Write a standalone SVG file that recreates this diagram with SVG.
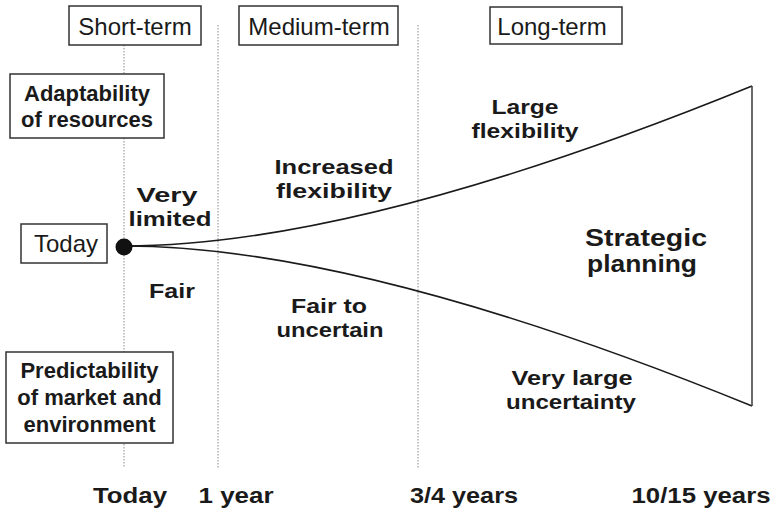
<svg xmlns="http://www.w3.org/2000/svg" width="773" height="512" viewBox="0 0 773 512">
  <style>
    .box { fill: #ffffff; stroke: #333333; stroke-width: 1.5; }
    .grid { stroke: #8a8a8a; stroke-width: 1; stroke-dasharray: 1.5 1.5; fill: none; }
    .curve { stroke: #1a1a1a; stroke-width: 1.6; fill: none; }
    .edge { stroke: #444444; stroke-width: 1.6; fill: none; }
    .reg { font-family: "Liberation Sans", Arial, sans-serif; font-size: 24px; fill: #1a1a1a; text-anchor: middle; }
    .lbl { font-family: "Liberation Sans", Arial, sans-serif; font-weight: bold; font-size: 21px; fill: #1a1a1a; text-anchor: middle; }
    .axis { font-family: "Liberation Sans", Arial, sans-serif; font-weight: bold; font-size: 22px; fill: #1a1a1a; text-anchor: middle; }
    .boxlbl { font-family: "Liberation Sans", Arial, sans-serif; font-weight: bold; font-size: 22px; fill: #1a1a1a; text-anchor: middle; }
    .big { font-family: "Liberation Sans", Arial, sans-serif; font-weight: bold; font-size: 23.5px; fill: #1a1a1a; text-anchor: middle; }
  </style>
  <rect width="773" height="512" fill="#ffffff"/>

  <!-- time markers -->
  <g id="gridlines">
    <line class="grid" x1="124" y1="45" x2="124" y2="468"/>
    <line class="grid" x1="218" y1="25" x2="218" y2="468"/>
    <line class="grid" x1="418" y1="25" x2="418" y2="468"/>
  </g>

  <!-- horizon headers -->
  <g id="short-term">
    <rect class="box" x="69" y="6" width="132" height="39"/>
    <text class="reg" x="135" y="35">Short-term</text>
  </g>
  <g id="medium-term">
    <rect class="box" x="239" y="6" width="159" height="39"/>
    <text class="reg" x="319" y="35">Medium-term</text>
  </g>
  <g id="long-term">
    <rect class="box" x="490" y="7" width="132" height="37"/>
    <text class="reg" x="552" y="35" font-size="25">Long-term</text>
  </g>

  <!-- row headers -->
  <g id="adaptability">
    <rect class="box" x="10" y="74" width="154" height="64"/>
    <text class="boxlbl" x="87" y="101">Adaptability</text>
    <text class="boxlbl" x="87" y="127">of resources</text>
  </g>
  <g id="predictability">
    <rect class="box" x="6" y="352" width="167" height="91"/>
    <text class="boxlbl" x="89.5" y="378">Predictability</text>
    <text class="boxlbl" x="89.5" y="405">of market and</text>
    <text class="boxlbl" x="89.5" y="432">environment</text>
  </g>
  <g id="today">
    <rect class="box" x="21" y="224" width="86" height="39"/>
    <text class="reg" x="66" y="252" font-size="23">Today</text>
  </g>

  <!-- funnel -->
  <g id="connectors">
    <path class="curve" d="M124,246 Q359,246 752,86"/>
    <path class="curve" d="M124,246 Q359,246 752,406"/>
    <line class="edge" x1="752" y1="86" x2="752" y2="406"/>
  </g>
  <g id="origin">
    <circle cx="124" cy="247" r="8.5" fill="#111111"/>
  </g>

  <!-- funnel annotations -->
  <g id="very-limited">
    <text class="lbl" x="167" y="201.5" textLength="61" lengthAdjust="spacingAndGlyphs">Very</text>
    <text class="lbl" x="170" y="225.5" textLength="83" lengthAdjust="spacingAndGlyphs">limited</text>
  </g>
  <g id="increased-flexibility">
    <text class="lbl" x="334" y="173.5" textLength="119" lengthAdjust="spacingAndGlyphs">Increased</text>
    <text class="lbl" x="334" y="197.5" textLength="116" lengthAdjust="spacingAndGlyphs">flexibility</text>
  </g>
  <g id="large-flexibility">
    <text class="lbl" x="525" y="113.5" textLength="67" lengthAdjust="spacingAndGlyphs">Large</text>
    <text class="lbl" x="525" y="137.5" textLength="107" lengthAdjust="spacingAndGlyphs">flexibility</text>
  </g>
  <g id="strategic-planning">
    <text class="big" x="646" y="246" textLength="122" lengthAdjust="spacingAndGlyphs">Strategic</text>
    <text class="big" x="642" y="272" textLength="110" lengthAdjust="spacingAndGlyphs">planning</text>
  </g>
  <g id="fair">
    <text class="lbl" x="172" y="298" textLength="46" lengthAdjust="spacingAndGlyphs">Fair</text>
  </g>
  <g id="fair-to-uncertain">
    <text class="lbl" x="329" y="313" textLength="76" lengthAdjust="spacingAndGlyphs">Fair to</text>
    <text class="lbl" x="330" y="337" textLength="107" lengthAdjust="spacingAndGlyphs">uncertain</text>
  </g>
  <g id="very-large-uncertainty">
    <text class="lbl" x="572" y="384.5" textLength="121" lengthAdjust="spacingAndGlyphs">Very large</text>
    <text class="lbl" x="571" y="408.5" textLength="130" lengthAdjust="spacingAndGlyphs">uncertainty</text>
  </g>

  <!-- time axis -->
  <g id="axis-labels">
    <text class="axis" x="130" y="503" textLength="74" lengthAdjust="spacingAndGlyphs">Today</text>
    <text class="axis" x="236" y="503" textLength="75" lengthAdjust="spacingAndGlyphs">1 year</text>
    <text class="axis" x="464" y="503" textLength="108" lengthAdjust="spacingAndGlyphs">3/4 years</text>
    <text class="axis" x="701" y="503" textLength="139" lengthAdjust="spacingAndGlyphs">10/15 years</text>
  </g>
</svg>
